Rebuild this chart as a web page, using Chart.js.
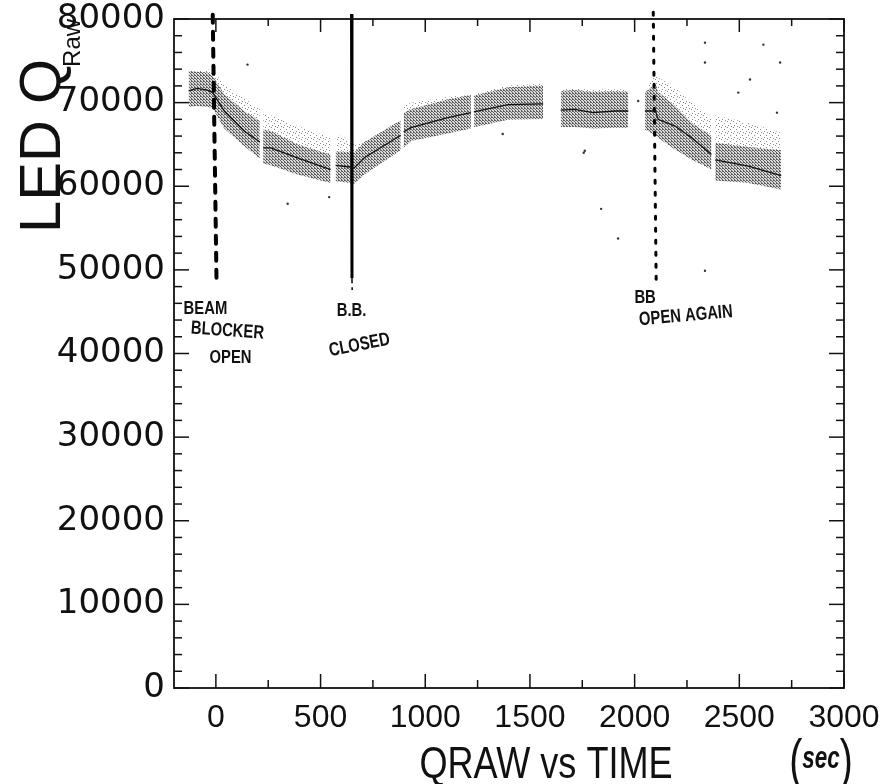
<!DOCTYPE html>
<html><head><meta charset="utf-8">
<script src="https://cdn.jsdelivr.net/npm/chart.js@4.4.1/dist/chart.umd.min.js"></script>
<style>html,body{margin:0;padding:0;background:#fff;}#wrap{width:892px;height:784px;}</style>
</head><body><div id="wrap"><canvas id="c" width="892" height="784"></canvas></div>
<script>
// ---- data (time in s, LED Q raw) ----
const times  = [-130,-90,-40,-15,40,135,210, 218, 226,262,390,548, 560, 572,640,661,709,883, 890, 897,932,1108,1218, 1225, 1232,1395,1563, 1605, 1647,1714,1801,1905,1970, 2010, 2049,2100,2112,2193,2272,2367, 2376, 2385,2543,2700];
const meanQ  = [71400,71700,71500,71200,69000,66600,65300, null, 64600,64600,63400,62000, null, 62500,62300,62200,63400,66100, null, 66500,67000,68200,68800, null, 68900,69750,69850, null, 69100,69200,68800,69000,69000, null, 69000,69000,68000,67200,65800,63800, null, 63150,62400,61280];
const upperQ = [73800,73700,73600,73200,71000,69000,67800, null, 66800,66600,65000,63800, null, 64200,64100,64000,65300,67900, null, 68800,69200,70400,70900, null, 70850,71850,72050, null, 71400,71500,71300,71400,71300, null, 71200,72300,71300,69600,67600,66000, null, 65200,64700,64300];
const lowerQ = [69500,69600,69500,69300,66900,64800,63300, null, 62700,62500,61400,60400, null, 60600,60400,60300,61400,64300, null, 64600,65400,66300,66900, null, 67050,67950,68050, null, 67100,67100,66900,67000,67000, null, 66800,66100,65800,64400,63200,62000, null, 60700,60400,59600];
const sparseQ= [73800,73700,74000,73800,72200,70500,69300, null, 68800,68500,67200,65800, null, 66300,65500,65000,65300,67900, null, 69600,70000,70700,70900, null, 71050,72050,72250, null, 71600,71700,71500,71600,71500, null, 71400,73500,73000,71800,70000,68200, null, 68500,67600,66400];
const outlierT = [151,343,541,1370,1762,2336,2336,2551,2615,2695,2495,2680,1840,1921,2336,1757,2017];
const outlierQ = [74550,57900,58700,66250,64250,77170,74800,72760,76930,74800,71200,68800,57300,53760,49900,64000,70200];
// hand-drawn marker lines
const openT = [-15, 3],      openQ = [80500, 48800];
const closedT = [648, 650],  closedQ = [80600, 49000];
const closedTailT = [650, 651], closedTailQ = [49000, 47600];
const againT = [2089, 2103], againQ = [80800, 48300];
// axes
const xTicks = [0,500,1000,1500,2000,2500,3000];
const yTicks = [0,10000,20000,30000,40000,50000,60000,70000,80000];
const xMin = -200, xMax = 3000, yMin = 0, yMax = 80000;
const xMinorStep = 250, xMajorStep = 500, yMinorStep = 2000, yMajorStep = 10000;
// hand-written notes [text, time, value, angle]
const notes = [
  ["BEAM", -50, 45400, 0],
  ["BLOCKER", 55, 42700, 4],
  ["OPEN", 70, 39500, 0],
  ["B.B.", 648, 45100, 0],
  ["CLOSED", 686, 41000, -11],
  ["BB", 2050, 46700, 0],
  ["OPEN AGAIN", 2245, 44500, -5]
];

const pts = (xs, ys) => xs.map((t, i) => ({x: t, y: ys[i]}));

function makePattern(size, base, dark, cells) {
  const c = document.createElement('canvas');
  c.width = size; c.height = size;
  const g = c.getContext('2d');
  g.fillStyle = base; g.fillRect(0, 0, size, size);
  g.fillStyle = dark;
  cells.forEach(([a, b]) => g.fillRect(a, b, 1, 1));
  return g.createPattern(c, 'repeat');
}
const ctx0 = document.getElementById('c').getContext('2d');
const densePat = makePattern(3, '#dadada', '#5e5e5e', [[0,0],[1,1],[2,2],[2,0]]);
const sparsePat = makePattern(6, '#ffffff', '#8a8a8a', [[1,1],[4,3],[2,5],[5,0]]);

const deco = {
  id: 'deco',
  afterDraw(chart) {
    const {ctx, chartArea: a, scales: {x, y}} = chart;
    ctx.save();
    ctx.strokeStyle = '#111';
    ctx.lineWidth = 1.8;
    ctx.strokeRect(a.left, a.top, a.right - a.left, a.bottom - a.top);
    ctx.lineWidth = 1.5;
    const ln = (x1, y1, x2, y2) => { ctx.beginPath(); ctx.moveTo(x1, y1); ctx.lineTo(x2, y2); ctx.stroke(); };
    for (let v = yMin; v <= yMax; v += yMinorStep) {
      const py = y.getPixelForValue(v);
      const L = v % yMajorStep === 0 ? 15 : 8;
      ln(a.left, py, a.left + L, py);
      ln(a.right, py, a.right - L, py);
    }
    for (let v = 0; v <= xMax; v += xMinorStep) {
      const px = x.getPixelForValue(v);
      const major = v % xMajorStep === 0;
      ln(px, a.bottom, px, a.bottom - (major ? 14 : 8));
      ln(px, a.top, px, a.top + (major ? 13 : 7));
    }
    // notes
    ctx.fillStyle = '#111';
    ctx.textAlign = 'center'; ctx.textBaseline = 'middle';
    notes.forEach(([txt, t, q, ang]) => {
      ctx.save();
      ctx.translate(x.getPixelForValue(t), y.getPixelForValue(q));
      ctx.rotate(ang * Math.PI / 180);
      ctx.scale(0.78, 1);
      ctx.font = 'bold 19px "Liberation Sans", sans-serif';
      ctx.fillText(txt, 0, 0);
      ctx.restore();
    });
    // y title: LED Q_Raw
    ctx.save();
    ctx.translate(60, 233);
    ctx.rotate(-Math.PI / 2);
    ctx.textAlign = 'left'; ctx.textBaseline = 'alphabetic';
    ctx.font = '58px "Liberation Sans", sans-serif';
    ctx.fillText('LED Q', 0, 0);
    const w = ctx.measureText('LED Q').width;
    ctx.font = '24px "Liberation Sans", sans-serif';
    ctx.fillText('Raw', w - 8, 20);
    ctx.restore();
    // x title (narrow look)
    ctx.save();
    ctx.translate(546, 778);
    ctx.scale(0.82, 1);
    ctx.textAlign = 'center'; ctx.textBaseline = 'alphabetic';
    ctx.font = '44px "Liberation Sans", sans-serif';
    ctx.fillText('QRAW vs TIME', 0, 0);
    ctx.restore();
    ctx.save();
    ctx.textAlign = 'center'; ctx.textBaseline = 'alphabetic';
    ctx.translate(821, 778);
    ctx.scale(0.7, 1);
    ctx.font = '56px "Liberation Sans", sans-serif';
    ctx.fillText('(', -36, 0);
    ctx.fillText(')', 36, 0);
    ctx.font = 'bold italic 32px "Liberation Sans", sans-serif';
    ctx.fillText('sec', 0, -10);
    ctx.restore();
    ctx.restore();
  }
};

new Chart(ctx0, {
  type: 'line',
  data: {
    datasets: [
      {data: pts(times, meanQ), borderColor: '#111', borderWidth: 1.3, pointRadius: 0, spanGaps: false, fill: false},
      {data: pts(openT, openQ), borderColor: '#000', borderWidth: 4, borderDash: [8, 9], borderCapStyle: 'round', pointRadius: 0, fill: false, clip: false},
      {data: pts(closedT, closedQ), borderColor: '#000', borderWidth: 3, pointRadius: 0, fill: false, clip: false},
      {data: pts(closedTailT, closedTailQ), borderColor: '#000', borderWidth: 1.5, borderDash: [5, 4], pointRadius: 0, fill: false, clip: false},
      {data: pts(againT, againQ), borderColor: '#000', borderWidth: 3, borderDash: [3, 9], borderCapStyle: 'round', pointRadius: 0, fill: false, clip: false},
      {type: 'scatter', data: pts(outlierT, outlierQ), showLine: false, pointRadius: 1.2, pointBorderWidth: 0, pointBackgroundColor: '#333'},
      {data: pts(times, lowerQ), borderWidth: 0, borderColor: 'rgba(0,0,0,0)', pointRadius: 0, spanGaps: false, fill: false},
      {data: pts(times, upperQ), borderWidth: 0, borderColor: 'rgba(0,0,0,0)', pointRadius: 0, spanGaps: false, fill: 6, backgroundColor: densePat},
      {data: pts(times, sparseQ), borderWidth: 0, borderColor: 'rgba(0,0,0,0)', pointRadius: 0, spanGaps: false, fill: 7, backgroundColor: sparsePat}
    ]
  },
  options: {
    responsive: false,
    animation: false,
    devicePixelRatio: 1,
    layout: {padding: {left: 0, top: 19, right: 48, bottom: 0}},
    plugins: {legend: {display: false}, tooltip: {enabled: false}, title: {display: false}},
    scales: {
      x: {
        type: 'linear', min: xMin, max: xMax,
        grid: {display: false, drawTicks: false},
        border: {display: false},
        afterBuildTicks: s => { s.ticks = xTicks.map(v => ({value: v})); },
        afterFit: s => { s.height = 96; s.paddingLeft = 0; s.paddingRight = 0; },
        ticks: {padding: 11, maxRotation: 0, autoSkip: false, color: '#111',
          font: {family: "'Liberation Sans', sans-serif", size: 32},
          callback: v => String(v)}
      },
      y: {
        type: 'linear', min: yMin, max: yMax,
        grid: {display: false, drawTicks: false},
        border: {display: false},
        afterBuildTicks: s => { s.ticks = yTicks.map(v => ({value: v})); },
        afterFit: s => { s.width = 174; s.paddingTop = 0; s.paddingBottom = 0; },
        ticks: {padding: 9, color: '#111',
          font: {family: "'DejaVu Sans', sans-serif", size: 34},
          callback: v => String(v)}
      }
    }
  },
  plugins: [deco]
});
</script></body></html>
